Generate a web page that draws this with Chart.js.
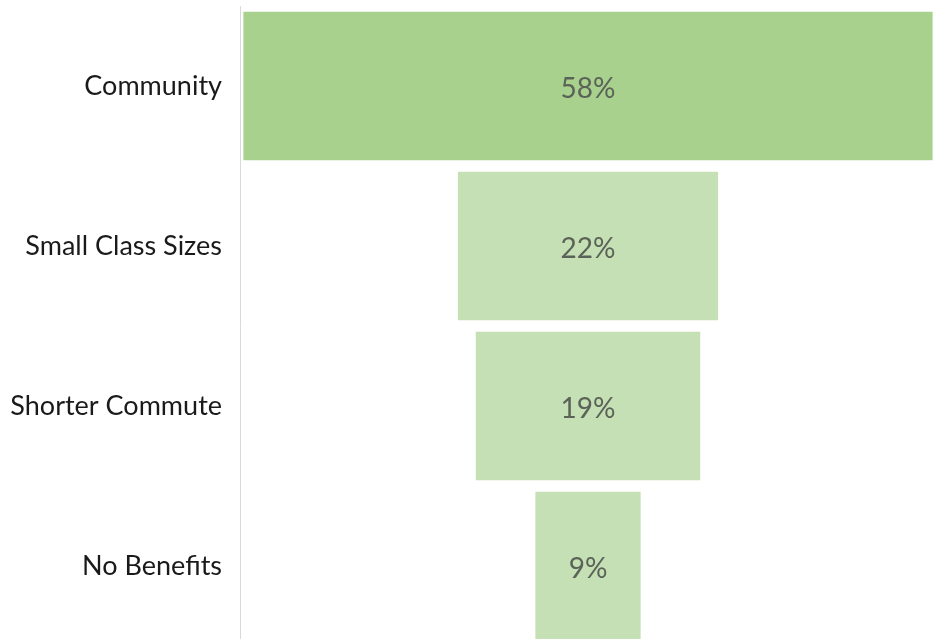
<!DOCTYPE html>
<html>
<head>
<meta charset="utf-8">
<script src="https://cdn.jsdelivr.net/npm/chart.js@4/dist/chart.umd.min.js"></script>
<style>
  html, body { margin: 0; padding: 0; background: #fff; overflow: hidden; }
  #wrap { position: relative; width: 936px; height: 646px; }
</style>
</head>
<body>
<div id="wrap"><canvas id="funnel"></canvas></div>
<script>
// funnel stages and their share (%)
const stages = ["Community", "Small Class Sizes", "Shorter Commute", "No Benefits"];
const shares = [58, 22, 19, 9];
const fills = ["#a9d18e", "#c5e0b4", "#c5e0b4", "#c5e0b4"];

// each bar is centred on zero so the stack reads as a funnel
const spans = shares.map(v => [-v / 2, v / 2]);
const half = Math.max(...shares) / 2 + 0.2;

// writes the percentage in the middle of every bar
const barLabels = {
  id: "barLabels",
  afterDatasetsDraw(chart) {
    const ctx = chart.ctx;
    const meta = chart.getDatasetMeta(0);
    ctx.save();
    ctx.font = "28px Lato";
    ctx.fillStyle = "#5b6358";
    ctx.textAlign = "center";
    ctx.textBaseline = "middle";
    meta.data.forEach((bar, i) => {
      ctx.fillText(shares[i] + "%", (bar.x + bar.base) / 2, bar.y + 3);
    });
    ctx.restore();
  }
};

new Chart(document.getElementById("funnel"), {
  type: "bar",
  data: {
    labels: stages,
    datasets: [{
      data: spans,
      backgroundColor: fills,
      borderColor: "rgba(255,255,255,0.25)",
      borderWidth: 1,
      borderSkipped: false,
      barPercentage: 0.94,
      categoryPercentage: 1
    }]
  },
  options: {
    indexAxis: "y",
    responsive: true,
    maintainAspectRatio: false,
    animation: false,
    layout: { padding: { top: 6, right: 0, bottom: 0, left: 0 } },
    plugins: { legend: { display: false }, tooltip: { enabled: false } },
    scales: {
      x: { display: false, min: -half, max: half },
      y: {
        // fixed axis width, and no extra room above/below for the tick text
        afterFit(scale) {
          scale.width = 240;
          scale.paddingTop = 0;
          scale.paddingBottom = 0;
        },
        grid: { display: false, drawTicks: false },
        border: { display: true, color: "#d9d9d9", width: 1 },
        ticks: { color: "#1a1a1a", padding: 18, font: { family: "Lato", size: 27 } }
      }
    }
  },
  plugins: [barLabels]
});
</script>
</body>
</html>
